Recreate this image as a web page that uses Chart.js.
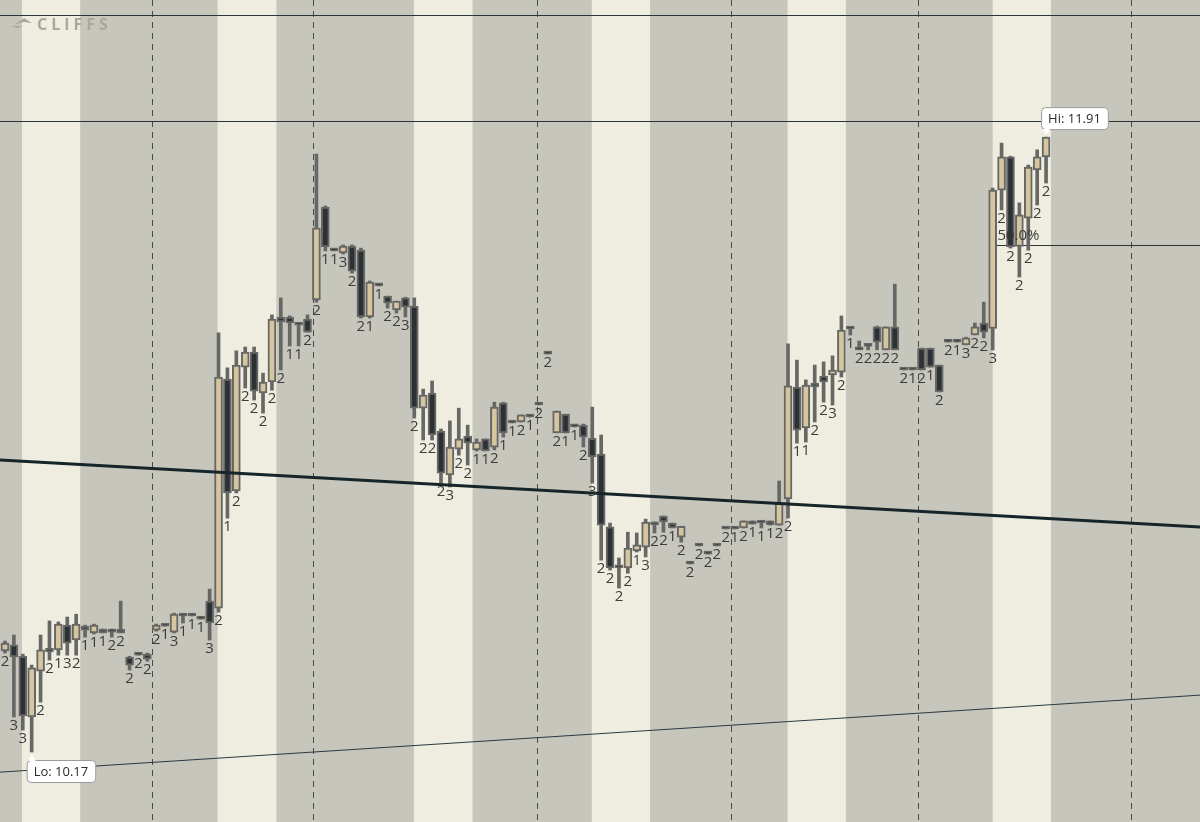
<!DOCTYPE html>
<html>
<head>
<meta charset="utf-8">
<script src="https://cdn.jsdelivr.net/npm/chart.js@4.4.1/dist/chart.umd.min.js"></script>
<style>
  html, body { margin: 0; padding: 0; background: #c7c6bd; }
  #wrap { width: 1200px; height: 822px; }
</style>
</head>
<body>
<div id="wrap"><canvas id="myChart"></canvas></div>
<script>
// candle data (price), one entry per bar slot
const opens = [10.456,10.473,10.441,10.269,10.399,10.464,10.459,10.529,10.487,10.526,10.507,10.518,10.518,10.518,10.439,10.450,10.447,10.515,10.532,10.509,10.560,10.560,10.552,10.597,10.577,11.225,10.909,11.259,11.302,11.186,11.217,11.401,11.401,11.384,11.395,11.449,11.712,11.593,11.582,11.602,11.590,11.401,11.494,11.460,11.421,11.455,11.432,11.143,11.186,11.078,10.954,11.027,11.064,11.025,11.056,11.033,11.158,11.107,11.104,11.124,11.158,11.302,11.073,11.126,11.095,11.095,11.058,11.013,10.807,10.696,10.691,10.739,10.750,10.821,10.838,10.818,10.778,10.708,10.758,10.736,10.758,10.807,10.807,10.804,10.824,10.824,10.824,10.812,10.886,11.203,11.087,11.214,11.234,11.237,11.245,11.373,11.316,11.322,11.373,11.308,11.373,11.257,11.257,11.313,11.313,11.265,11.336,11.336,11.322,11.350,11.384,11.369,11.760,11.854,11.601,11.681,11.817,11.854];
const highs = [10.484,10.501,10.447,10.416,10.501,10.541,10.538,10.552,10.560,10.529,10.532,10.518,10.518,10.597,10.441,10.450,10.450,10.532,10.532,10.563,10.560,10.560,10.552,10.631,11.356,11.257,11.305,11.316,11.316,11.242,11.407,11.455,11.404,11.384,11.407,11.862,11.715,11.593,11.605,11.605,11.596,11.503,11.494,11.460,11.446,11.457,11.455,11.197,11.220,11.084,11.107,11.143,11.095,11.056,11.056,11.160,11.160,11.107,11.124,11.124,11.158,11.302,11.135,11.126,11.095,11.098,11.146,11.067,10.818,10.719,10.792,10.790,10.829,10.821,10.838,10.818,10.809,10.708,10.758,10.736,10.758,10.807,10.807,10.824,10.824,10.824,10.824,10.937,11.325,11.279,11.223,11.265,11.274,11.291,11.404,11.373,11.333,11.322,11.375,11.373,11.494,11.257,11.257,11.313,11.313,11.265,11.336,11.336,11.344,11.384,11.443,11.766,11.893,11.856,11.724,11.831,11.874,11.910];
const lows = [10.450,10.269,10.232,10.170,10.311,10.430,10.444,10.444,10.444,10.495,10.504,10.507,10.495,10.507,10.402,10.444,10.427,10.512,10.526,10.507,10.535,10.555,10.546,10.487,10.566,10.832,10.903,11.200,11.166,11.129,11.194,11.251,11.319,11.319,11.358,11.443,11.588,11.588,11.579,11.525,11.398,11.398,11.489,11.426,11.412,11.401,11.115,11.053,11.053,10.931,10.920,11.010,10.982,11.022,11.022,11.025,11.061,11.101,11.104,11.118,11.152,11.296,11.073,11.073,11.090,11.033,10.931,10.713,10.685,10.634,10.676,10.736,10.722,10.790,10.792,10.804,10.764,10.702,10.753,10.730,10.753,10.801,10.801,10.804,10.815,10.804,10.812,10.812,10.832,11.044,11.047,11.104,11.160,11.152,11.231,11.350,11.308,11.308,11.308,11.308,11.308,11.251,11.251,11.251,11.259,11.189,11.330,11.330,11.322,11.350,11.342,11.308,11.704,11.596,11.514,11.590,11.718,11.780];
const closes = [10.478,10.439,10.272,10.408,10.459,10.453,10.532,10.478,10.532,10.515,10.529,10.507,10.509,10.507,10.416,10.444,10.433,10.529,10.526,10.560,10.555,10.555,10.546,10.535,11.231,10.903,11.265,11.302,11.191,11.217,11.395,11.387,11.384,11.378,11.358,11.653,11.599,11.588,11.602,11.531,11.401,11.500,11.489,11.440,11.446,11.429,11.143,11.180,11.067,10.959,11.033,11.056,11.044,11.047,11.022,11.146,11.073,11.101,11.124,11.118,11.152,11.296,11.135,11.073,11.090,11.061,11.005,10.812,10.691,10.691,10.747,10.756,10.821,10.813,10.821,10.804,10.809,10.702,10.753,10.730,10.753,10.801,10.801,10.824,10.815,10.818,10.813,10.875,11.206,11.081,11.208,11.203,11.217,11.251,11.364,11.367,11.308,11.318,11.330,11.373,11.308,11.251,11.251,11.251,11.259,11.189,11.330,11.330,11.342,11.373,11.358,11.760,11.854,11.599,11.690,11.825,11.854,11.910];
const counts = ['2','3','3','','2','2','1','3','2','1','1','1','2','2','2','2','2','2','1','3','1','1','1','3','2','1','2','2','2','2','2','2','1','1','2','2','1','1','3','2','2','1','1','2','2','3','2','2','2','2','3','2','2','1','1','2','1','1','2','1','2','2','2','1','1','2','3','2','2','2','2','1','3','2','2','1','2','2','2','2','2','2','1','2','1','1','1','2','2','1','1','2','2','3','2','1','2','2','2','2','2','2','1','2','1','2','2','1','3','2','2','3','2','2','2','2','2','2'];
// session stripes and dashed session dividers, in bar slots
const lightSessions = [[1.9, 8.45], [23.9, 30.5], [45.95, 52.55], [65.95, 72.5], [87.95, 94.5], [111, 117.55]];
const dividers = [16.52, 34.61, 59.78, 81.57, 102.58, 126.52];
// drawn levels
const trendMain = [[-0.56, 10.996], [134.3, 10.807]];
const trendLow = [[-0.56, 10.113], [134.3, 10.331]];
const levels = [12.256, 11.956];
const midLevel = 11.605;

const UP = '#d6c6a0', DOWN = '#2c3135', EDGE = '#676765';

const bodies = opens.map((o, i) => ({ x: i, y: [o, closes[i]] }));
const wicks = highs.map((h, i) => ({ x: i, y: [lows[i], h] }));

const decorations = {
  id: 'decorations',
  beforeDatasetsDraw(chart) {
    const { ctx, chartArea: a, scales: { x, y } } = chart;
    ctx.save();
    ctx.fillStyle = '#c7c6bd';
    ctx.fillRect(a.left, a.top, a.width, a.height);
    ctx.fillStyle = '#eeede0';
    lightSessions.forEach(([s, e]) => {
      ctx.fillRect(x.getPixelForValue(s), a.top, x.getPixelForValue(e) - x.getPixelForValue(s), a.height);
    });
    ctx.strokeStyle = '#4a4a4a';
    ctx.lineWidth = 1;
    ctx.setLineDash([6, 5]);
    dividers.forEach(d => {
      const px = Math.round(x.getPixelForValue(d)) + 0.5;
      ctx.beginPath(); ctx.moveTo(px, a.top); ctx.lineTo(px, a.bottom); ctx.stroke();
    });
    ctx.setLineDash([]);
    ctx.strokeStyle = '#2b3538';
    levels.forEach(l => {
      const py = Math.round(y.getPixelForValue(l)) + 0.5;
      ctx.beginPath(); ctx.moveTo(a.left, py); ctx.lineTo(a.right, py); ctx.stroke();
    });
    const my = Math.round(y.getPixelForValue(midLevel)) + 0.5;
    ctx.beginPath(); ctx.moveTo(x.getPixelForValue(110.8), my); ctx.lineTo(a.right, my); ctx.stroke();
    // logo
    ctx.fillStyle = '#a9a89f';
    ctx.font = 'bold 16px "Open Sans"';
    if (ctx.letterSpacing !== undefined) ctx.letterSpacing = '4px';
    ctx.fillText('CLIFFS', 37, 30);
    ctx.beginPath(); ctx.moveTo(14, 25); ctx.lineTo(24, 18); ctx.lineTo(32, 23); ctx.lineTo(24, 22); ctx.closePath(); ctx.fill();
    ctx.beginPath(); ctx.moveTo(10, 26); ctx.lineTo(22, 26); ctx.lineTo(18, 28); ctx.closePath(); ctx.fill();
    ctx.restore();
  },
  afterDatasetsDraw(chart) {
    const { ctx, scales: { x, y } } = chart;
    ctx.save();
    ctx.font = '15px "Open Sans"';
    ctx.textAlign = 'center';
    ctx.textBaseline = 'top';
    ctx.fillStyle = '#3c3c3c';
    counts.forEach((c, i) => {
      if (c) ctx.fillText(c, x.getPixelForValue(i), y.getPixelForValue(lows[i]) + 1);
    });
    ctx.fillText('50.0%', x.getPixelForValue(113.9), y.getPixelForValue(midLevel) - 17);
    // hi / lo tags
    const tag = (txt, px, py, up) => {
      ctx.font = '13px "Open Sans"';
      const w = ctx.measureText(txt).width + 14, h = 22;
      const bx = px - 5, by = up ? py + 8 : py - 8 - h;
      ctx.fillStyle = '#ffffff'; ctx.strokeStyle = '#9a9a9a'; ctx.lineWidth = 1;
      ctx.beginPath(); ctx.roundRect(bx + 0.5, by + 0.5, w, h, 4); ctx.fill(); ctx.stroke();
      ctx.beginPath();
      if (up) { ctx.moveTo(px - 3, by + 1); ctx.lineTo(px, by - 6); ctx.lineTo(px + 4, by + 1); }
      else { ctx.moveTo(px - 3, by + h); ctx.lineTo(px, by + h + 6); ctx.lineTo(px + 4, by + h); }
      ctx.fill();
      ctx.fillStyle = '#2a2a2a'; ctx.textAlign = 'left'; ctx.textBaseline = 'middle';
      ctx.fillText(txt, bx + 7, by + h / 2 + 1);
    };
    tag('Hi: 11.91', x.getPixelForValue(117), y.getPixelForValue(highs[117]), false);
    tag('Lo: 10.17', x.getPixelForValue(3), y.getPixelForValue(lows[3]), true);
    ctx.restore();
  }
};

const chart = new Chart(document.getElementById('myChart').getContext('2d'), {
  type: 'bar',
  data: {
    datasets: [
      { type: 'line', data: trendMain.map(([a, b]) => ({ x: a, y: b })), borderColor: '#16252a', borderWidth: 3, pointRadius: 0, order: 0 },
      { type: 'line', data: trendLow.map(([a, b]) => ({ x: a, y: b })), borderColor: '#2a3a40', borderWidth: 1, pointRadius: 0, order: 0 },
      { data: bodies, grouped: false, barThickness: 8, minBarLength: 3, borderWidth: 2, borderSkipped: false,
        borderColor: EDGE, backgroundColor: opens.map((o, i) => closes[i] > o ? UP : DOWN), order: 1 },
      { data: wicks, grouped: false, barThickness: 3, minBarLength: 2, borderWidth: 0,
        backgroundColor: EDGE, order: 2 },
    ],
  },
  options: {
    responsive: true,
    maintainAspectRatio: false,
    animation: false,
    layout: { padding: 0 },
    plugins: { legend: { display: false }, tooltip: { enabled: false } },
    scales: {
      x: { type: 'linear', min: -0.56, max: 134.3, offset: false, display: false },
      y: { min: 9.972, max: 12.298, display: false },
    },
  },
  plugins: [decorations],
});
</script>
</body>
</html>
